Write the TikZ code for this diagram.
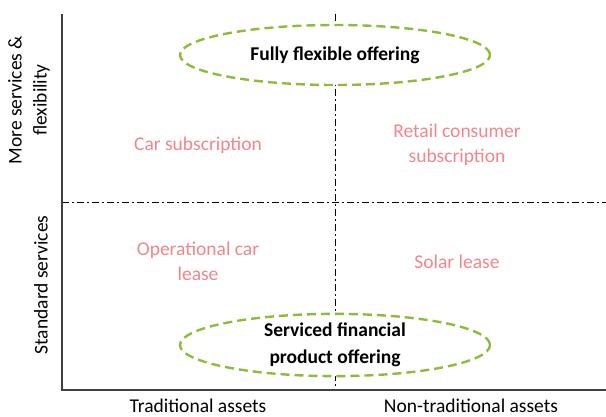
\documentclass[tikz,border=0pt]{standalone}
\usepackage{fontspec}
\setmainfont{Carlito}
\usetikzlibrary{shapes.geometric}
\definecolor{axisgray}{HTML}{404040}
\definecolor{leafgreen}{HTML}{8DBB3A}
\definecolor{salmon}{HTML}{F4858A}
\begin{document}
\begin{tikzpicture}[x=1pt,y=-1pt,
  axis/.style={draw=axisgray,line width=1.3pt},
  divider/.style={draw=black,line width=0.8pt,dash pattern=on 7pt off 3pt on 2pt off 3pt},
  offer/.style={ellipse,draw=leafgreen,fill=white,line width=2.4pt,dash pattern=on 9pt off 5pt,
    minimum width=310pt,minimum height=60pt,inner sep=0pt,
    font=\fontsize{19.5}{27}\selectfont\bfseries,align=center},
  example/.style={text=salmon,font=\fontsize{19.5}{25}\selectfont,align=center},
  axislabel/.style={font=\fontsize{19.5}{25}\selectfont,align=center,inner sep=1pt}]
  \useasboundingbox (0,0) rectangle (606,417);
  % quadrant dividers
  \coordinate (vtop) at (335,14);
  \coordinate (vbot) at (335,390);
  \coordinate (hl) at (62,202);
  \coordinate (hr) at (606,202);
  \draw[divider] (vtop) -- (vbot);
  \draw[divider] (hl) -- (hr);
  % axes
  \coordinate (origin) at (62,390);
  \coordinate (ytop) at (62,14);
  \coordinate (xend) at (606,390);
  \draw[axis] (ytop) -- (origin) -- (xend);
  % offerings
  \node[offer] (flex) at (335,55) {Fully flexible offering};
  \node[offer] (serv) at (335,345) {Serviced financial\\product offering};
  % quadrant examples
  \node[example] (carsub) at (198,145) {Car subscription};
  \node[example] (retail) at (457,145) {Retail consumer\\subscription};
  \node[example] (opcar) at (198,261) {Operational car\\lease};
  \node[example] (solar) at (457,262) {Solar lease};
  % axis labels
  \node[axislabel] (xtrad) at (198,406) {Traditional assets};
  \node[axislabel] (xnon) at (471,406) {Non-traditional assets};
  \node[axislabel,rotate=90] (ymore) at (29,100) {More services \&\\flexibility};
  \node[axislabel,rotate=90] (ystd) at (41,285) {Standard services};
\end{tikzpicture}
\end{document}
